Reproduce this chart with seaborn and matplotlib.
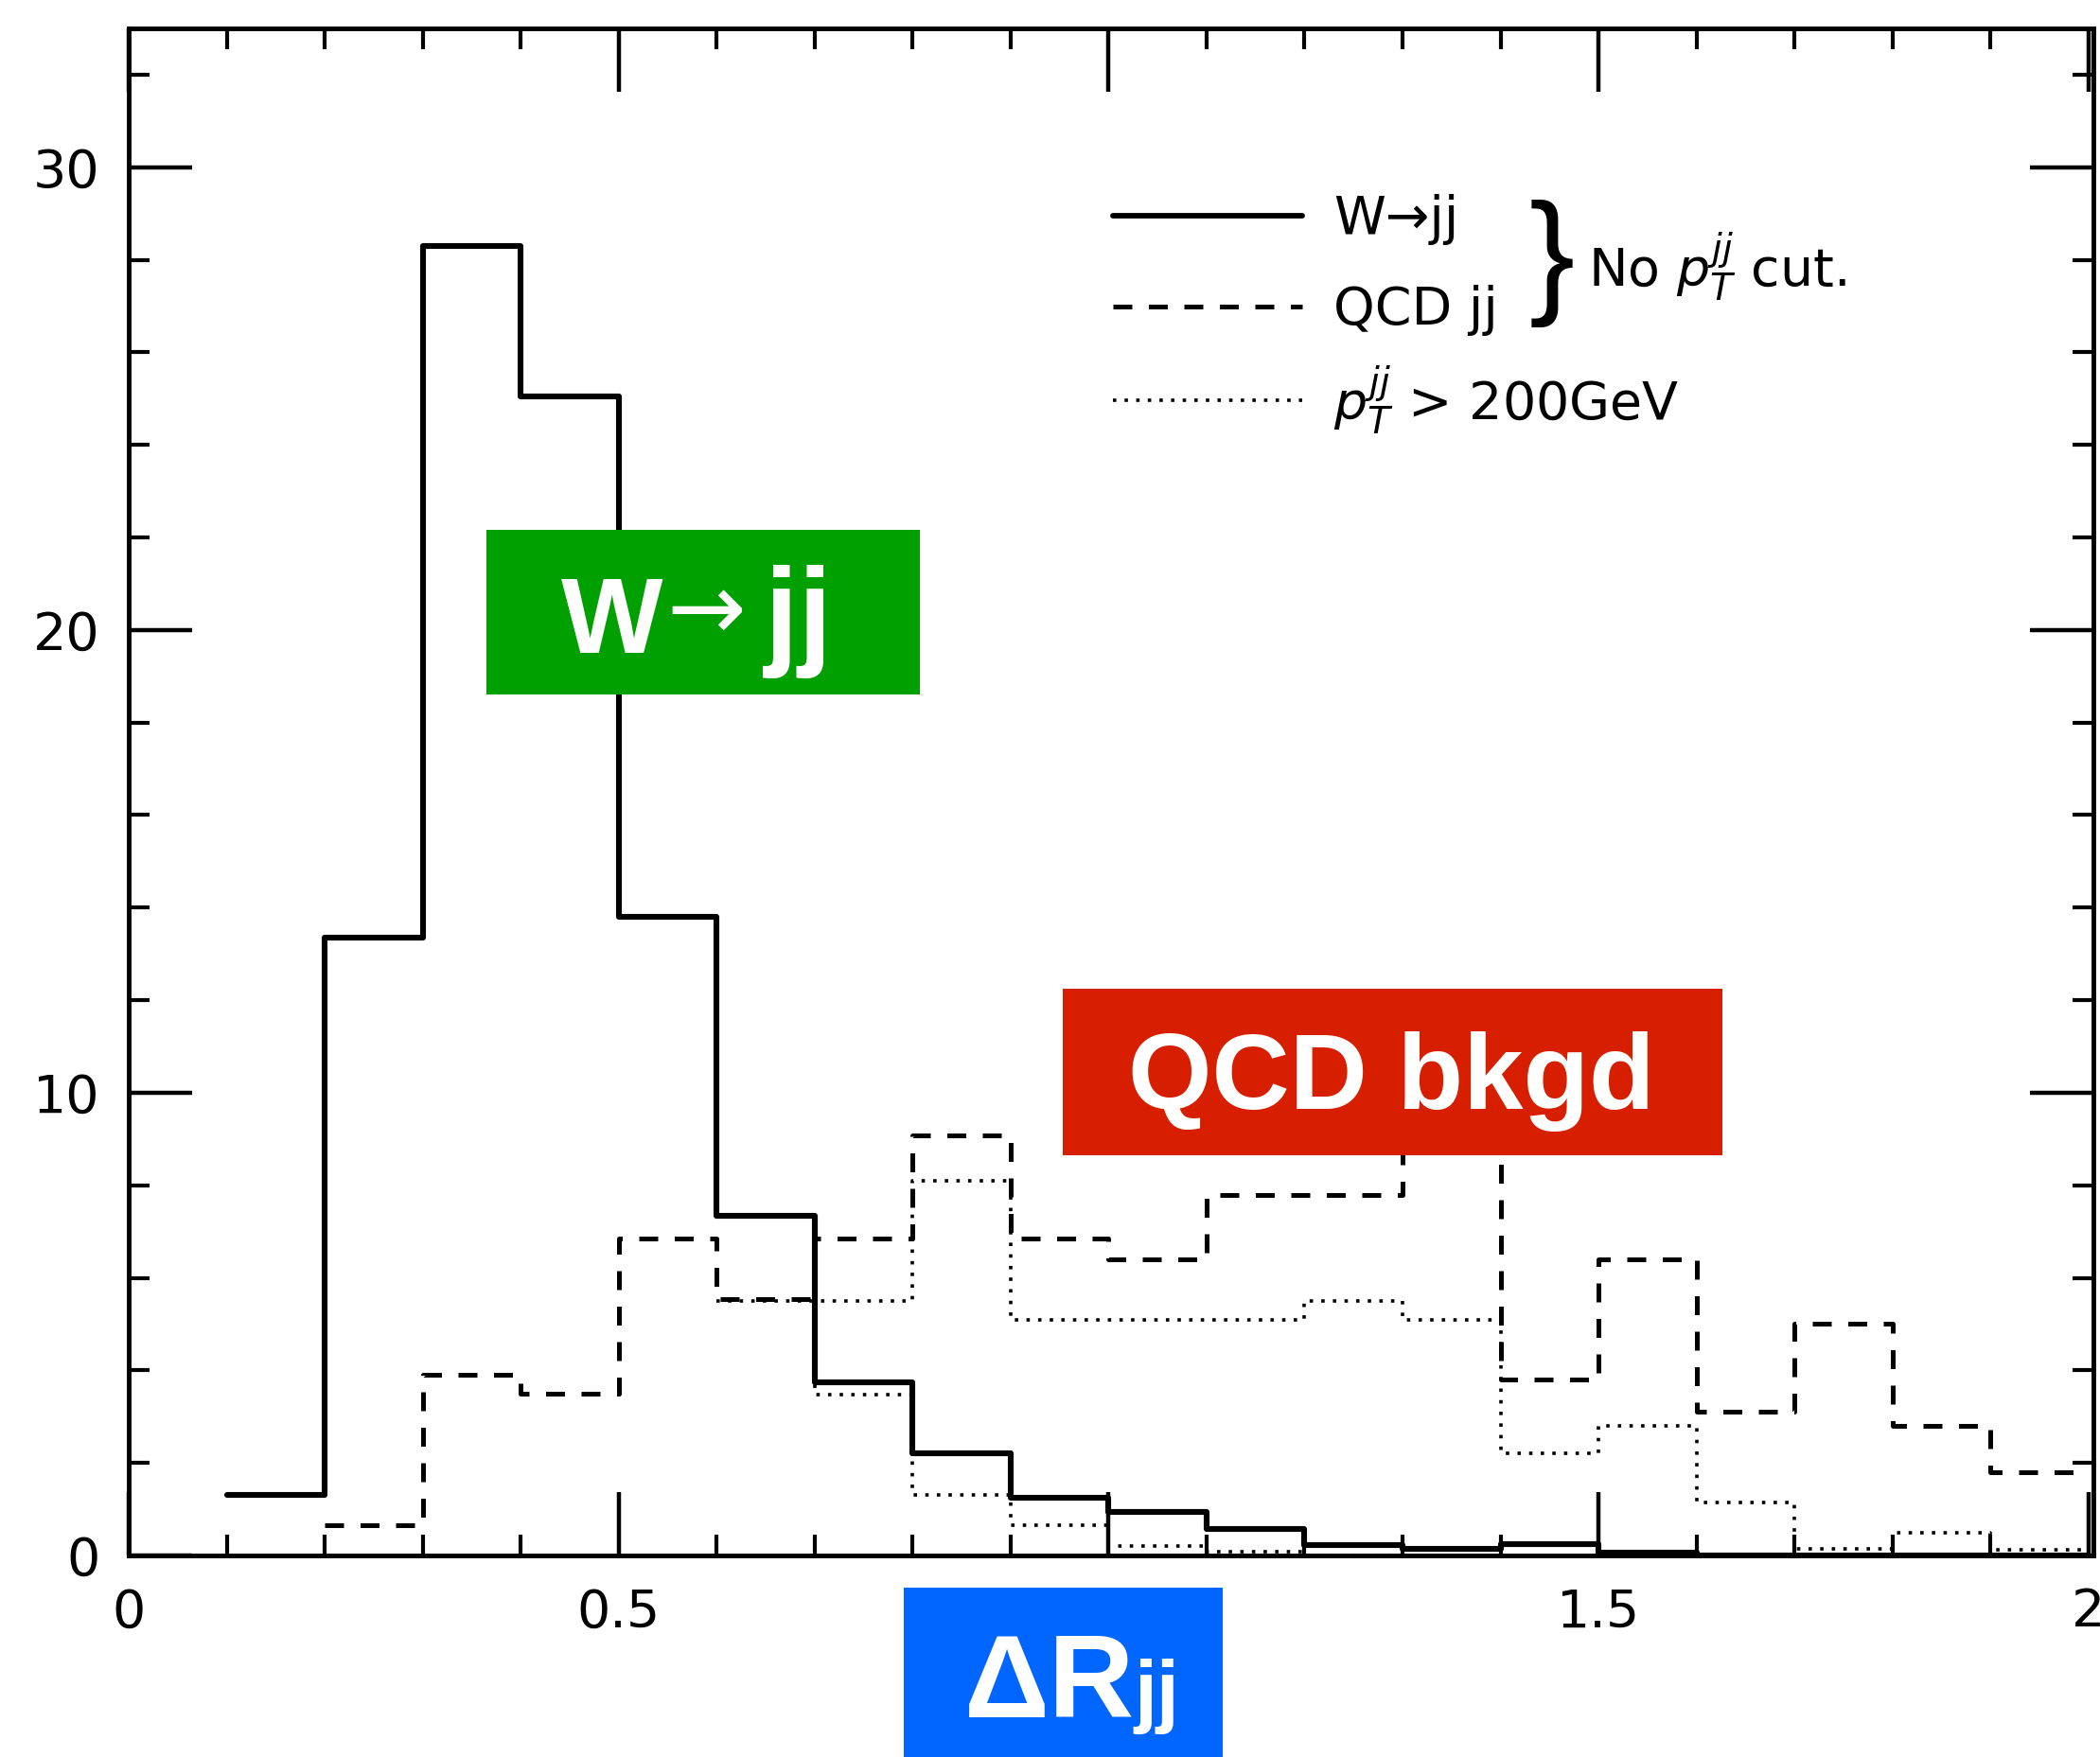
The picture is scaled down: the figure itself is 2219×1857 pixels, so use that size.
import matplotlib
matplotlib.use("Agg")
import numpy as np
import pandas as pd
import matplotlib.pyplot as plt
from matplotlib.lines import Line2D
from matplotlib.patches import Rectangle
from matplotlib.ticker import MultipleLocator
import seaborn as sns

# Delta R_jj histograms, bins of 0.1
w_edges = [0.1, 0.2, 0.3, 0.4, 0.5, 0.6, 0.7, 0.8, 0.9, 1.0,
           1.1, 1.2, 1.3, 1.4, 1.5, 1.6, 1.7, 1.8, 1.9, 2.0]
w_jj = [1.3, 13.35, 28.3, 25.05, 13.8, 7.35, 3.75, 2.2, 1.25, 0.95,
        0.57, 0.23, 0.15, 0.25, 0.07, 0.0, 0.0, 0.0, 0.0]

qcd_edges = [0.2, 0.3, 0.4, 0.5, 0.6, 0.7, 0.8, 0.9, 1.0, 1.1,
             1.2, 1.3, 1.4, 1.5, 1.6, 1.7, 1.8, 1.9, 2.0]
qcd_jj = [0.66, 3.9, 3.5, 6.85, 5.55, 6.85, 9.08, 6.85, 6.4,
          7.8, 7.8, 9.3, 3.8, 6.4, 3.1, 5.0, 2.8, 1.8]

# pT(jj) > 200 GeV (dotted), left bin edges
qcd_cut_x = [0.6, 0.7, 0.8, 0.9, 1.0, 1.1, 1.2, 1.3, 1.4, 1.5, 1.6, 1.7, 1.8, 1.9, 2.0]
qcd_cut_y = [5.5, 5.5, 8.1, 5.1, 5.1, 5.1, 5.5, 5.1, 2.2, 2.8, 1.15, 0.15, 0.5, 0.13, 0.13]
w_cut_x = [0.6, 0.7, 0.8, 0.9, 1.0, 1.1, 1.2, 1.3]
w_cut_y = [7.35, 3.47, 1.3, 0.66, 0.2, 0.08, 0.0, 0.0]

# the "1" label sits under the Delta R box in the original
x_ticks = [0, 0.5, 1, 1.5, 2]
x_labels = ["0", "0.5", "", "1.5", "2"]
y_ticks = [0, 10, 20, 30]

sns.set_style("ticks")
plt.rcParams["font.family"] = ["DejaVu Sans"]
plt.rcParams["text.color"] = "black"
plt.rcParams["xtick.color"] = "black"
plt.rcParams["ytick.color"] = "black"

fig = plt.figure(figsize=(22.19, 18.57), dpi=100)
ax = fig.add_axes([0.0613, 0.1147, 0.9355, 0.8691])

w_df = pd.DataFrame({"dr": np.array(w_edges[:-1]) + 0.05, "n": w_jj})
q_df = pd.DataFrame({"dr": np.array(qcd_edges[:-1]) + 0.05, "n": qcd_jj})

sns.histplot(data=w_df, x="dr", weights="n", bins=w_edges, element="step",
             fill=False, color="black", linewidth=4.4, ax=ax)
sns.histplot(data=q_df, x="dr", weights="n", bins=qcd_edges, element="step",
             fill=False, color="black", linewidth=3.6, linestyle=(0, (4, 3.5)), ax=ax)
sns.lineplot(x=qcd_cut_x, y=qcd_cut_y, drawstyle="steps-post", color="black",
             linewidth=2.6, linestyle=(0, (1, 2.4)), estimator=None, sort=False, ax=ax)
sns.lineplot(x=w_cut_x, y=w_cut_y, drawstyle="steps-post", color="black",
             linewidth=2.6, linestyle=(0, (1, 2.4)), estimator=None, sort=False, ax=ax)

ax.set_xlim(0, 2.005)
ax.set_ylim(0, 33)
ax.set_xticks(x_ticks)
ax.set_xticklabels(x_labels)
ax.set_yticks(y_ticks)
ax.xaxis.set_minor_locator(MultipleLocator(0.1))
ax.yaxis.set_minor_locator(MultipleLocator(2))
ax.set_xlabel("")
ax.set_ylabel("")
ax.tick_params(which="major", direction="in", length=48, width=3.2,
               top=True, right=True, labelsize=40, color="black", labelcolor="black")
ax.tick_params(axis="y", which="major", pad=22)
ax.tick_params(axis="x", which="major", pad=24)
ax.tick_params(which="minor", direction="in", length=16, width=3,
               top=True, right=True, color="black")
for sp in ax.spines.values():
    sp.set_linewidth(3.5)
    sp.set_color("black")

# legend: two "no cut" rows, then the pT cut row
leg_kw = dict(loc="center left", frameon=False, fontsize=40, handlelength=3.6,
              handletextpad=0.6, borderpad=0, borderaxespad=0, labelcolor="black")
h_nocut = [Line2D([], [], color="black", lw=4.2),
           Line2D([], [], color="black", lw=3.6, ls=(0, (4, 3.5)))]
leg1 = ax.legend(h_nocut, ["W\u2192jj", "QCD jj"], bbox_to_anchor=(0.501, 0.8450),
                 labelspacing=0.76, **leg_kw)
ax.add_artist(leg1)
h_cut = [Line2D([], [], color="black", lw=2.6, ls=(0, (1, 2.4)))]
ax.legend(h_cut, [r"$p_T^{jj}$ > 200GeV"], bbox_to_anchor=(0.501, 0.757), **leg_kw)

fig.text(0.739, 0.8499, "}", fontsize=104, ha="center", va="center",
         family=["Liberation Sans", "DejaVu Sans"], color="black")
fig.text(0.756, 0.8374, r"No $p_T^{jj}$ cut.", fontsize=40, ha="left", va="baseline")

# coloured label boxes
bold = ["Liberation Sans", "DejaVu Sans"]
fig.patches.append(Rectangle((0.2316, 0.6047), 0.2064, 0.0937, transform=fig.transFigure,
                             facecolor="#00A000", edgecolor="none", zorder=2))
fig.text(0.2672, 0.6284, "W", fontsize=82, fontweight="bold", color="white",
         ha="left", va="baseline", family=bold, zorder=3)
fig.text(0.3364, 0.6510, "\u2192", fontsize=72, color="white",
         ha="center", va="center", family=["DejaVu Sans"], zorder=3)
fig.text(0.3641, 0.6284, "jj", fontsize=92, fontweight="bold", color="white",
         ha="left", va="baseline", family=bold, zorder=3)

fig.patches.append(Rectangle((0.5061, 0.3425), 0.3141, 0.0948, transform=fig.transFigure,
                             facecolor="#D71F00", edgecolor="none", zorder=2))
fig.text(0.6625, 0.3689, "QCD bkgd", fontsize=82, fontweight="bold", color="white",
         ha="center", va="baseline", family=bold, zorder=3)

fig.patches.append(Rectangle((0.4304, 0.0), 0.1519, 0.0964, transform=fig.transFigure,
                             facecolor="#0066FF", edgecolor="none", zorder=2))
fig.text(0.4590, 0.0226, "\u0394R", fontsize=90, fontweight="bold", color="white",
         ha="left", va="baseline", family=bold, zorder=3)
fig.text(0.5400, 0.0226, "jj", fontsize=62, fontweight="bold", color="white",
         ha="left", va="baseline", family=bold, zorder=3)

fig.savefig("out.png", dpi=100, facecolor="white")
